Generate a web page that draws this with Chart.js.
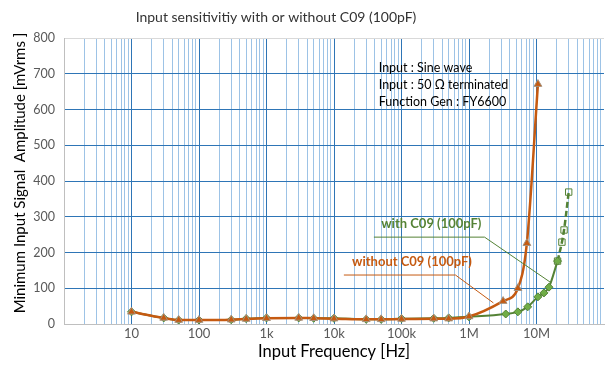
<!DOCTYPE html>
<html>
<head>
<meta charset="utf-8">
<script src="https://cdn.jsdelivr.net/npm/chart.js@4/dist/chart.umd.min.js"></script>
<style>
	body { margin: 0; background: #fff; }
	#box { width: 615px; height: 381px; position: relative; }
</style>
</head>
<body>
<div id="box"><canvas id="sensChart"></canvas></div>
<script>
// frequencies [Hz] and amplitudes [mVrms]
var freqWithout = [10, 30, 50, 100, 300, 500, 1e3, 3e3, 5e3, 1e4, 3e4, 5e4, 1e5, 3e5, 5e5, 1e6, 3.2e6, 5.3e6, 7.2e6, 1.05e7];
var ampWithout  = [34, 17, 11, 11, 12, 14, 16, 17, 16, 15, 13, 13, 14, 15, 15, 21, 64, 100, 226, 671];

var freqWith = [10, 30, 50, 100, 300, 500, 1e3, 3e3, 5e3, 1e4, 3e4, 5e4, 1e5, 3e5, 5e5, 1e6, 3.5e6, 5.3e6, 7.4e6, 1.05e7, 1.29e7, 1.53e7, 2.05e7];
var ampWith  = [34, 17, 11, 11, 12, 15, 17, 17, 16, 16, 13, 13, 15, 16, 17, 20, 28, 34, 48, 76, 87, 103, 176];

var freqWithExtra = [2.05e7, 2.38e7, 2.56e7, 3.0e7];
var ampWithExtra  = [176, 229, 263, 369];

var xTickLabels = {10: '10', 100: '100', 1000: '1k', 10000: '10k', 100000: '100k', 1000000: '1M', 10000000: '10M'};
var yTicks = [0, 100, 200, 300, 400, 500, 600, 700, 800];

var infoLines = ['Input : Sine wave', 'Input : 50 \u03A9 terminated', 'Function Gen : FY6600'];

var FONT = 'Lato, "Noto Sans", sans-serif';
var ORANGE = '#C55A11';
var GREEN = '#548235';

function pts(xs, ys) {
	var out = [];
	for (var i = 0; i < xs.length; i++) out.push({x: xs[i], y: ys[i]});
	return out;
}

// titles, notes and leader lines
var notesPlugin = {
	id: 'notes',
	afterDatasetsDraw: function(chart) {
		var c = chart.ctx, xs = chart.scales.x, ys = chart.scales.y, a = chart.chartArea;
		c.save();
		c.textBaseline = 'middle';

		// leader lines
		c.lineWidth = 1;
		c.strokeStyle = GREEN;
		c.beginPath();
		c.moveTo(xs.getPixelForValue(3.9e4), ys.getPixelForValue(243));
		c.lineTo(xs.getPixelForValue(1.7e6), ys.getPixelForValue(243));
		c.lineTo(xs.getPixelForValue(1.6e7), ys.getPixelForValue(117));
		c.stroke();
		c.strokeStyle = ORANGE;
		c.beginPath();
		c.moveTo(xs.getPixelForValue(1.4e4), ys.getPixelForValue(137));
		c.lineTo(xs.getPixelForValue(6.3e5), ys.getPixelForValue(137));
		c.lineTo(xs.getPixelForValue(2.3e6), ys.getPixelForValue(59));
		c.stroke();

		c.font = 'bold 13px ' + FONT;
		c.textAlign = 'left';
		c.fillStyle = GREEN;
		c.fillText('with C09 (100pF)', xs.getPixelForValue(5e4), ys.getPixelForValue(280));
		c.fillStyle = ORANGE;
		c.fillText('without C09 (100pF)', xs.getPixelForValue(1.85e4), ys.getPixelForValue(173));

		c.font = '12.5px ' + FONT;
		c.fillStyle = '#000';
		for (var i = 0; i < infoLines.length; i++) {
			c.fillText(infoLines[i], xs.getPixelForValue(4.6e4), a.top + 30 + i * 17);
		}

		// chart title
		c.font = '14px ' + FONT;
		c.fillStyle = '#333';
		c.textAlign = 'center';
		c.fillText('Input sensitivitiy with or without C09 (100pF)', 276, 17);

		// axis titles
		c.fillStyle = '#000';
		c.font = '16.5px ' + FONT;
		c.fillText('Input Frequency [Hz]', (a.left + a.right) / 2, 352);
		c.translate(20, (a.top + a.bottom) / 2 - 8);
		c.rotate(-Math.PI / 2);
		c.font = '15px ' + FONT;
		c.fillText('Minimum Input Signal  Amplitude [mVrms ]', 0, 0);
		c.restore();
	}
};

var ctx = document.getElementById('sensChart').getContext('2d');
var sensChart = new Chart(ctx, {
	type: 'line',
	data: {
		datasets: [{
			label: 'without C09 (100pF)',
			data: pts(freqWithout, ampWithout),
			borderColor: ORANGE,
			backgroundColor: ORANGE,
			borderWidth: 2.5,
			pointStyle: 'triangle',
			pointRadius: 4.5,
			pointBackgroundColor: ORANGE,
			pointBorderColor: '#A5927E',
			pointBorderWidth: 1,
			cubicInterpolationMode: 'monotone',
			order: 0
		}, {
			label: 'with C09 (100pF)',
			data: pts(freqWith, ampWith),
			borderColor: GREEN,
			backgroundColor: '#70AD47',
			borderWidth: 2,
			pointStyle: 'rectRot',
			pointRadius: 4,
			pointBackgroundColor: '#70AD47',
			pointBorderColor: GREEN,
			pointBorderWidth: 1,
			cubicInterpolationMode: 'monotone',
			order: 1
		}, {
			label: 'with C09 (100pF) ext',
			data: pts(freqWithExtra, ampWithExtra),
			borderColor: GREEN,
			backgroundColor: 'rgba(0,0,0,0)',
			borderWidth: 2.5,
			borderDash: [6, 3],
			pointStyle: 'rect',
			pointRadius: 4.5,
			pointBackgroundColor: 'rgba(255,255,255,0)',
			pointBorderColor: GREEN,
			pointBorderWidth: 1,
			cubicInterpolationMode: 'monotone',
			order: 2
		}]
	},
	options: {
		responsive: true,
		maintainAspectRatio: false,
		animation: false,
		layout: { padding: { top: 38, right: 11, left: 0, bottom: 0 } },
		plugins: {
			legend: { display: false },
			tooltip: { enabled: false }
		},
		scales: {
			x: {
				type: 'logarithmic',
				min: 1,
				max: 1e8,
				afterBuildTicks: function(scale) {
					var t = [];
					for (var e = 0; e < 8; e++) {
						for (var m = 1; m < 10; m++) t.push({value: m * Math.pow(10, e)});
					}
					t.push({value: 1e8});
					scale.ticks = t;
				},
				afterFit: function(scale) { scale.height = 57; },
				ticks: {
					autoSkip: false,
					maxRotation: 0,
					padding: 2,
					color: '#595959',
					font: { family: FONT, size: 13 },
					callback: function(v) {
						return xTickLabels[v] || '';
					}
				},
				grid: {
					drawTicks: false,
					color: function(c) {
						var v = c.tick ? c.tick.value : 0;
						if (v <= 1) return '#BFBFBF';
						if (v >= 1e8) return 'rgba(0,0,0,0)';
						var lg = Math.log10(v);
						return Math.abs(lg - Math.round(lg)) < 1e-9 ? '#2E75B6' : '#9DC3E6';
					}
				},
				border: { display: true, color: '#BFBFBF' }
			},
			y: {
				min: 0,
				max: 800,
				afterBuildTicks: function(scale) {
					scale.ticks = yTicks.map(function(v) { return {value: v}; });
				},
				afterFit: function(scale) { scale.width = 64; },
				ticks: {
					padding: 9,
					color: '#595959',
					font: { family: FONT, size: 12.5 }
				},
				grid: {
					drawTicks: false,
					color: function(c) {
						var v = c.tick ? c.tick.value : 0;
						if (v === 0) return '#BFBFBF';
						if (v === 800) return '#D9D9D9';
						return '#2E75B6';
					}
				},
				border: { display: true, color: '#BFBFBF' }
			}
		}
	},
	plugins: [notesPlugin]
});
</script>
</body>
</html>
